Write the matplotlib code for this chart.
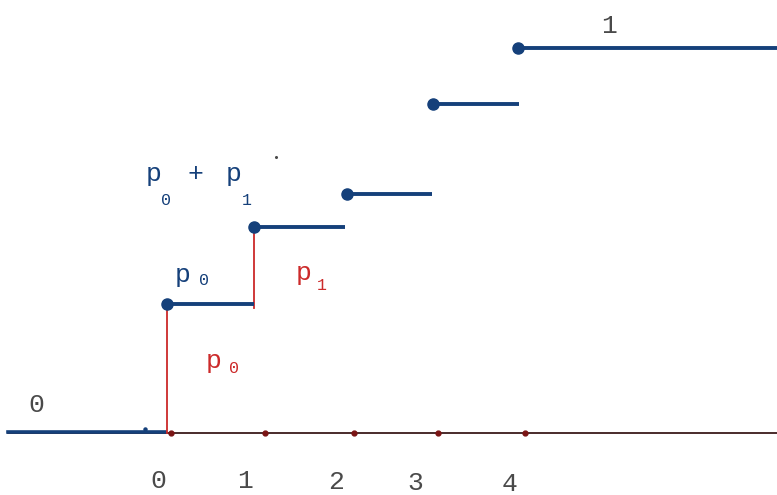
import matplotlib.pyplot as plt

# jump positions (horizontal, in picture units) and cdf levels
jump_x = [167, 254, 347, 433, 518]
levels = [0.335, 0.535, 0.62, 0.855, 1.0]
seg_end = [254, 345, 432, 519, 777]
axis_dots = [171, 265, 354, 438, 525]
tick_labels = ["0", "1", "2", "3", "4"]
tick_x = [158, 245, 336, 415, 510]
tick_base = [488, 488, 489, 490, 491]

BLUE = "#15407a"
RED = "#cc2a2a"
AXIS = "#3a1a1a"
DOT = "#7a1414"
GRAY = "#4a4a4a"
MONO = "Liberation Mono"
BIG = 19
SUB = 12


def py(p):
    # picture row -> data y (axis at row 433, level 1 at row 48)
    return (433 - p) / 385


fig = plt.figure(figsize=(7.77, 4.95), dpi=100)
ax = fig.add_axes([0, 0, 1, 1])
ax.set_xlim(0, 777)
ax.set_ylim(py(495), py(0))
ax.axis("off")

# horizontal axis
ax.plot([8, 777], [0, 0], color=AXIS, lw=1.3, zorder=1)
ax.plot(axis_dots, [0] * len(axis_dots), "o", color=DOT, ms=3.5, zorder=3)
# F = 0 to the left
ax.plot([8, 165], [0.002, 0.002], color=BLUE, lw=2.6, zorder=2)
ax.plot([145], [py(429)], "o", color=BLUE, ms=2.2)

# red jumps
ax.plot([jump_x[0], jump_x[0]], [0, levels[0]], color=RED, lw=1.3, zorder=2)
ax.plot([jump_x[1], jump_x[1]], [levels[0] - 0.01, levels[1]], color=RED, lw=1.3, zorder=2)

# steps
for x0, x1, lv in zip(jump_x, seg_end, levels):
    ax.plot([x0, x1], [lv, lv], color=BLUE, lw=2.8, solid_capstyle="butt", zorder=3)
    ax.plot([x0], [lv], "o", color=BLUE, ms=8, zorder=4)

for tx, tb, t in zip(tick_x, tick_base, tick_labels):
    ax.text(tx, py(tb), t, fontsize=BIG, family=MONO, color=GRAY, ha="center", va="baseline")

ax.text(36, py(412), "0", fontsize=BIG, family=MONO, color=GRAY, ha="center", va="baseline")
ax.text(609, py(33), "1", fontsize=BIG, family=MONO, color=GRAY, ha="center", va="baseline")


def p_label(x, base, sub, sub_x, sub_base, color):
    ax.text(x, py(base), "p", fontsize=BIG, family=MONO, color=color, ha="left", va="baseline")
    ax.text(sub_x, py(sub_base), sub, fontsize=SUB, family=MONO, color=color,
            ha="left", va="baseline")


# p0 near first step
p_label(175, 282, "0", 199, 285, BLUE)
# p0 + p1
p_label(146, 181, "0", 161, 205, BLUE)
ax.text(195, py(174), "+", fontsize=BIG, family=MONO, color=BLUE, ha="center", va="center")
p_label(226, 181, "1", 242, 205, BLUE)
ax.plot([276], [py(157)], "o", color=GRAY, ms=1.2)

# red labels
p_label(296, 280, "1", 317, 290, RED)
p_label(206, 368, "0", 229, 373, RED)

fig.savefig("out.png", dpi=100, facecolor="white")
